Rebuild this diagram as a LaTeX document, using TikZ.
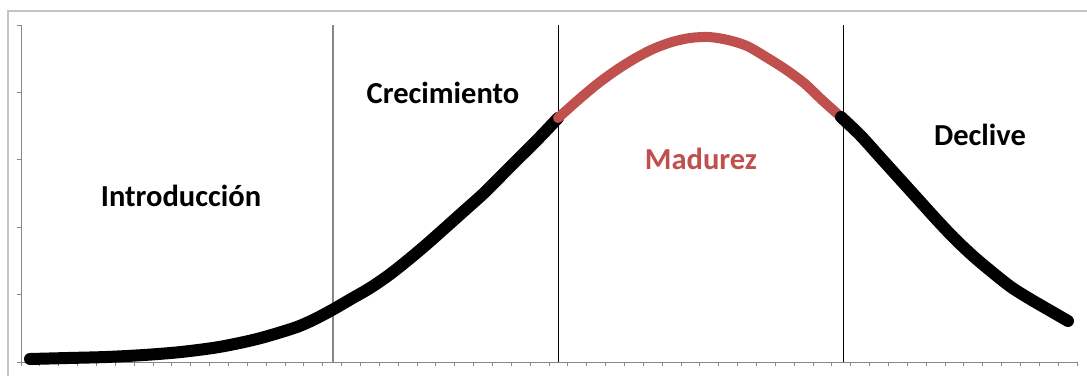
\documentclass[tikz,border=0pt]{standalone}
\usepackage{fontspec}
\setmainfont{Carlito}
\definecolor{exred}{HTML}{C0504D}
\definecolor{framegray}{HTML}{C4C4C4}
\definecolor{axisgray}{HTML}{878787}
\tikzset{
  framebox/.style={draw=framegray,line width=1.6pt},
  axisline/.style={draw=axisgray,line width=1pt},
  tickline/.style={draw=axisgray,line width=0.8pt},
  phaseline/.style={draw=black,line width=0.9pt},
  blackcurve/.style={draw=black,line width=12pt,line cap=round,line join=round},
  redcurve/.style={draw=exred,line width=10pt,line cap=round,line join=round},
  phaselabel/.style={font=\fontsize{30.5}{36}\selectfont\bfseries,inner sep=0pt,anchor=center}
}
\begin{document}
\begin{tikzpicture}[x=1pt,y=-1pt]
\useasboundingbox (0,0) rectangle (1087,375);
\clip (0,0) rectangle (1087,375);
\fill[white] (0,0) rectangle (1087,375);
% outer chart frame
\draw[framebox] (8,400) -- (8,11) -- (1100,11);
% axes
\draw[axisline] (21,25) -- (21,362) -- (1078,362);
\foreach \k in {0,...,56} {
  \draw[tickline] ({21+18.857*\k},362) -- ({21+18.857*\k},366);
}
\foreach \k in {0,...,5} {
  \draw[tickline] (17,{25+67.4*\k}) -- (21,{25+67.4*\k});
}
% phase separators
\draw[draw=axisgray,line width=1.3pt] (333,25) -- (333,362);
\draw[phaseline] (558,25) -- (558,362);
\draw[phaseline] (843,25) -- (843,362);
% curve
\draw[blackcurve] plot[smooth,tension=0.5] coordinates {(30,359) (68,358) (106,357) (144,355) (181,352) (219,347) (257,339) (294,328) (313,320) (332,310) (351,299) (370,288) (389,275) (408,260) (427,244) (445,228) (464,211) (483,194) (502,175) (521,156) (540,137) (558,118)};
\draw[redcurve] plot[smooth,tension=0.5] coordinates {(558,118) (577,101) (596,85) (615,71) (634,59) (653,49) (672,42) (690,38) (709,37) (728,40) (747,46) (766,57) (785,69) (804,83) (822,100) (841,117)};
\draw[blackcurve] plot[smooth,tension=0.5] coordinates {(841,117) (860,135) (879,156) (898,177) (917,198) (936,219) (954,238) (973,256) (992,272) (1011,287) (1030,299) (1049,310) (1068,321)};
% labels
\node[phaselabel] (intro) at (181,196) {Introducción};
\node[phaselabel] (crec) at (443,93) {Crecimiento};
\node[phaselabel,text=exred] (mad) at (701,159) {Madurez};
\node[phaselabel] (decl) at (980,135) {Declive};
\end{tikzpicture}
\end{document}
